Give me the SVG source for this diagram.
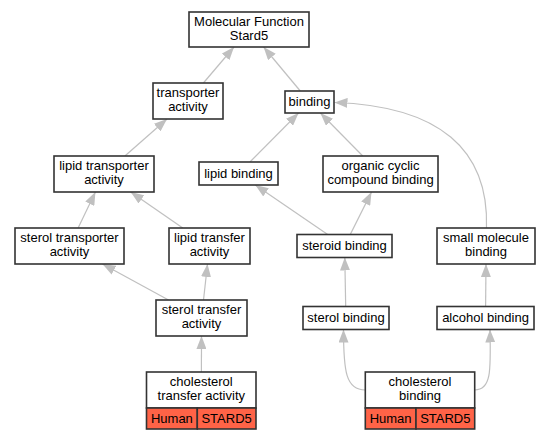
<svg xmlns="http://www.w3.org/2000/svg" width="549" height="440" viewBox="0 0 549 440">
<style>
.n rect{fill:#fff;stroke:#333;stroke-width:1.6}
.n rect.c{fill:#ff6347}
text{font-family:"Liberation Sans",Arial,sans-serif;font-size:13px;fill:#000;text-anchor:middle}
#edges path{fill:none;stroke:#c0c0c0;stroke-width:1.2;marker-end:url(#arr)}
</style>
<defs>
<marker id="arr" viewBox="0 0 13 10" refX="13" refY="5" markerWidth="13" markerHeight="10" markerUnits="userSpaceOnUse" orient="auto"><path d="M0,0 L13,5 L0,10 z" fill="#c0c0c0"/></marker>
</defs>
<rect width="549" height="440" fill="#fff"/>
<g id="edges">
<path d="M203.4,83 L234,47"/>
<path d="M300.3,91 L263.6,47"/>
<path d="M124.9,156 L167,119"/>
<path d="M249.9,162 L298.6,113"/>
<path d="M362.75,156 L320.4,113"/>
<path d="M486.5,228 C489,150 440,106 334.5,102.5"/>
<path d="M78.1,228 L95.4,192"/>
<path d="M182.8,228 L130.7,192"/>
<path d="M327.7,234.5 L255.3,185"/>
<path d="M350.25,234.5 L371.5,192"/>
<path d="M168.5,300 L102.5,264"/>
<path d="M203.5,300 L207.5,264"/>
<path d="M345.7,306.5 L344.8,257.5"/>
<path d="M485.6,306.5 L486,264"/>
<path d="M201.4,372 L201.5,336"/>
<path d="M365.3,390 C346,390 343.5,372 343.5,329.5"/>
<path d="M474.7,390 C491,390 491,372 490,329.5"/>
</g>
<g id="n1" class="n"><rect x="189" y="12" width="120" height="35"/><text x="249" y="25.5">Molecular Function</text><text x="249" y="40">Stard5</text></g>
<g id="n2" class="n"><rect x="153" y="83" width="70" height="36"/><text x="188" y="96.5">transporter</text><text x="188" y="111">activity</text></g>
<g id="n3" class="n"><rect x="285" y="91" width="49" height="22"/><text x="309.5" y="106">binding</text></g>
<g id="n4" class="n"><rect x="54" y="156" width="100" height="36"/><text x="104" y="169.5">lipid transporter</text><text x="104" y="184">activity</text></g>
<g id="n5" class="n"><rect x="199" y="162" width="79" height="23"/><text x="238.5" y="177.5">lipid binding</text></g>
<g id="n6" class="n"><rect x="323" y="156" width="115" height="36"/><text x="380.5" y="169.5">organic cyclic</text><text x="380.5" y="184">compound binding</text></g>
<g id="n7" class="n"><rect x="15" y="228" width="109" height="36"/><text x="69.5" y="241.5">sterol transporter</text><text x="69.5" y="256">activity</text></g>
<g id="n8" class="n"><rect x="169" y="228" width="81" height="36"/><text x="209.5" y="241.5">lipid transfer</text><text x="209.5" y="256">activity</text></g>
<g id="n9" class="n"><rect x="297" y="234.5" width="95" height="23"/><text x="344.5" y="250">steroid binding</text></g>
<g id="n10" class="n"><rect x="437" y="228" width="98" height="36"/><text x="486" y="241.5">small molecule</text><text x="486" y="256">binding</text></g>
<g id="n11" class="n"><rect x="156" y="300" width="91" height="36"/><text x="201.5" y="313.5">sterol transfer</text><text x="201.5" y="328">activity</text></g>
<g id="n12" class="n"><rect x="303" y="306.5" width="86" height="23"/><text x="346" y="322">sterol binding</text></g>
<g id="n13" class="n"><rect x="437" y="306.5" width="97" height="23"/><text x="485.5" y="322">alcohol binding</text></g>
<g id="n14" class="n"><rect x="146.5" y="372" width="109.5" height="36"/><rect class="c" x="146.5" y="408" width="50.8" height="21"/><rect class="c" x="197.3" y="408" width="58.7" height="21"/><text x="201.3" y="385.5">cholesterol</text><text x="201.3" y="400">transfer activity</text><text x="171.9" y="422.5">Human</text><text x="226.6" y="422.5">STARD5</text></g>
<g id="n15" class="n"><rect x="365.3" y="372" width="109.4" height="36"/><rect class="c" x="365.3" y="408" width="50.7" height="21"/><rect class="c" x="416" y="408" width="58.7" height="21"/><text x="420" y="385.5">cholesterol</text><text x="420" y="400">binding</text><text x="390.6" y="422.5">Human</text><text x="445.3" y="422.5">STARD5</text></g>
</svg>
